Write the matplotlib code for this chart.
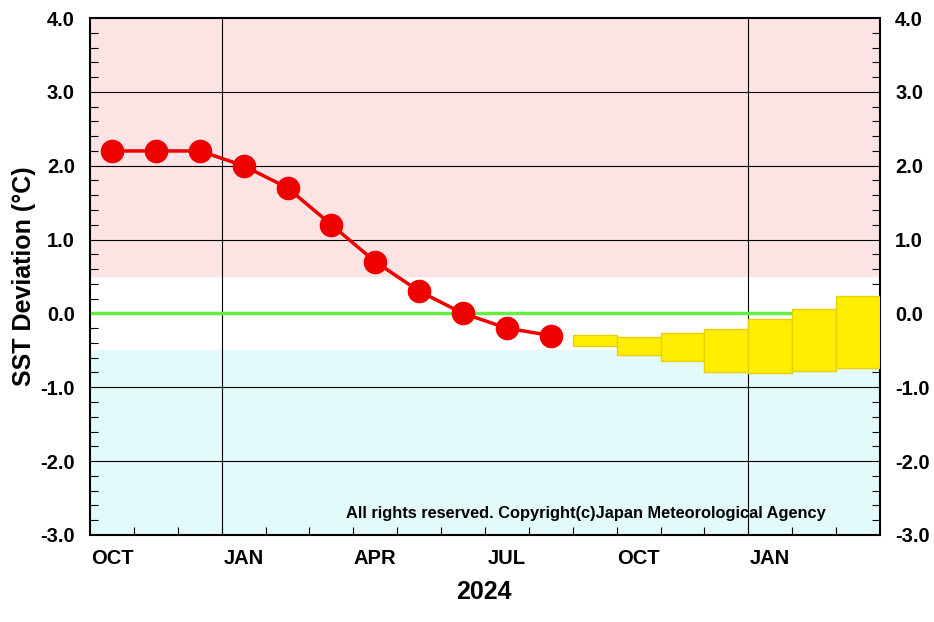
import numpy as np
import matplotlib.pyplot as plt
from matplotlib.ticker import MultipleLocator, FixedLocator

plt.rcParams['font.family'] = ['Liberation Sans', 'DejaVu Sans']
plt.rcParams['font.weight'] = 'bold'

# month index: 0 = Oct 2023 ... 17 = Mar 2025
obs_month = [0, 1, 2, 3, 4, 5, 6, 7, 8, 9, 10]
obs_value = [2.2, 2.2, 2.2, 2.0, 1.7, 1.2, 0.7, 0.3, 0.0, -0.2, -0.3]

fc_month = [11, 12, 13, 14, 15, 16, 17]
fc_top = [-0.29, -0.32, -0.26, -0.21, -0.07, 0.06, 0.24]
fc_bottom = [-0.44, -0.57, -0.65, -0.80, -0.81, -0.78, -0.74]

tick_month = [0, 3, 6, 9, 12, 15]
tick_label = ['OCT', 'JAN', 'APR', 'JUL', 'OCT', 'JAN']

fig = plt.figure(figsize=(9.34, 6.22), dpi=100)
ax = fig.add_axes([0.0964, 0.140, 0.8457, 0.831])

xmin, xmax = -0.5, 17.5
ax.set_xlim(xmin, xmax)
ax.set_ylim(-3.0, 4.0)

# background bands
ax.axhspan(0.5, 4.0, color='#fde3e3', zorder=0)
ax.axhspan(-3.0, -0.5, color='#e3fafa', zorder=0)

# grid
for y in [-2, -1, 1, 2, 3]:
    ax.axhline(y, color='black', lw=0.8, zorder=1)
for x in [2.5, 14.5]:
    ax.axvline(x, color='black', lw=0.8, zorder=1)
ax.axhline(0, color='#66ee44', lw=2.5, zorder=2)

# forecast boxes
ax.bar(fc_month, np.array(fc_top) - np.array(fc_bottom), bottom=fc_bottom, width=1.0,
       color='#ffee00', edgecolor='#e8cf00', lw=1.0, zorder=3)

# observations
ax.plot(obs_month, obs_value, color='#ee0000', lw=2.5, marker='o', markersize=16,
        markerfacecolor='#ee0000', markeredgecolor='#ee0000', zorder=4)

# ticks
ax.xaxis.set_major_locator(FixedLocator(tick_month))
ax.set_xticklabels(tick_label)
ax.xaxis.set_minor_locator(FixedLocator(np.arange(xmin + 1, xmax, 1.0)))
ax.tick_params(axis='x', which='major', length=0, labelsize=14.5, pad=10)
ax.tick_params(axis='x', which='minor', direction='in', length=6, width=0.8)

ax.yaxis.set_major_locator(MultipleLocator(1.0))
ax.yaxis.set_minor_locator(MultipleLocator(0.2))
ax.set_yticklabels([f'{v:.1f}' for v in ax.get_yticks()])
ax.tick_params(axis='y', which='both', left=True, right=True, labelleft=True,
               labelright=True, direction='in', labelsize=14.5)
ax.tick_params(axis='y', which='major', length=0, pad=11)
ax.tick_params(axis='y', which='minor', length=6, width=0.8)

for s in ax.spines.values():
    s.set_linewidth(1.5)

ax.set_ylabel('SST Deviation (°C)', fontsize=18, fontweight='bold', labelpad=3)
fig.text(0.518, 0.048, '2024', fontsize=18, fontweight='bold', ha='center', va='center')
ax.text(0.932, 0.027, 'All rights reserved. Copyright(c)Japan Meteorological Agency',
        transform=ax.transAxes, fontsize=11.8, fontweight='bold', ha='right', va='bottom')

fig.savefig('out.png', dpi=100)
